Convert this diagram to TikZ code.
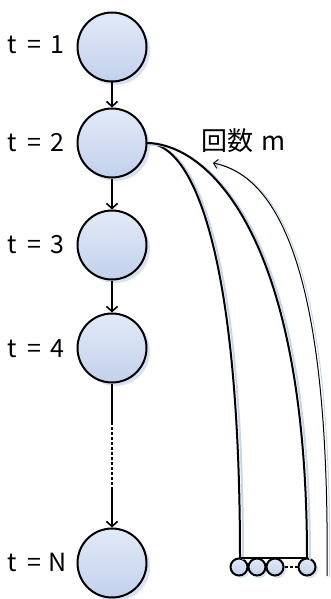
\documentclass[tikz,border=0pt]{standalone}
\usepackage{fontspec}
\setmainfont{Noto Sans CJK JP}
\usetikzlibrary{arrows.meta,shadows}
\definecolor{ctop}{RGB}{226,234,247}
\definecolor{cbot}{RGB}{194,209,236}
\definecolor{shc}{RGB}{200,213,238}
\newcommand{\hwc}[1]{\makebox[11.4pt]{#1}}
\tikzset{
  bigc/.style={circle, draw=black, line width=2pt, minimum size=69pt, inner sep=0pt,
    top color=ctop, bottom color=cbot,
    drop shadow={fill=shc, opacity=0.7, shadow xshift=3.5pt, shadow yshift=-3.5pt}},
  smallc/.style={circle, draw=black, line width=2pt, minimum size=17pt, inner sep=0pt,
    top color=ctop, bottom color=cbot,
    drop shadow={fill=shc, opacity=0.7, shadow xshift=2.5pt, shadow yshift=-2.5pt}},
  tlabel/.style={anchor=west, inner sep=0pt, font=\fontsize{25}{25}\selectfont},
  varrow/.style={line width=1.6pt, -{Straight Barb[length=5pt,width=11pt,line width=1.6pt]}},
  vline/.style={line width=1.6pt},
  bigcurve/.style={line width=2pt,
    preaction={draw=shc, line width=2pt, transform canvas={shift={(3pt,-1.5pt)}}}},
  thincurve/.style={line width=1pt,
    preaction={draw=shc, line width=1pt, transform canvas={shift={(2.5pt,-1pt)}}},
    -{Straight Barb[length=4pt,width=9pt,line width=1pt]}},
}
\begin{document}
\begin{tikzpicture}[x=1pt,y=-1pt]
\useasboundingbox (0,0) rectangle (330,599);
% main nodes
\node[bigc] (n1) at (112,47) {};
\node[bigc] (n2) at (112,143) {};
\node[bigc] (n3) at (112,245) {};
\node[bigc] (n4) at (112,348) {};
\node[bigc] (nN) at (112,563) {};
% labels
\node[tlabel] (l1) at (6,45) {\hwc{t}\hwc{ }\hwc{=}\hwc{ }\hwc{1}};
\node[tlabel] (l2) at (6,143) {\hwc{t}\hwc{ }\hwc{=}\hwc{ }\hwc{2}};
\node[tlabel] (l3) at (6,245) {\hwc{t}\hwc{ }\hwc{=}\hwc{ }\hwc{3}};
\node[tlabel] (l4) at (6,349) {\hwc{t}\hwc{ }\hwc{=}\hwc{ }\hwc{4}};
\node[tlabel] (lN) at (6,562) {\hwc{t}\hwc{ }\hwc{=}\hwc{ }\hwc{N}};
\node[tlabel, font=\fontsize{26}{26}\selectfont] (lm) at (201,141) {回数\hspace{8pt}m};
% vertical arrows
\draw[varrow] (n1) -- (n2);
\draw[varrow] (n2) -- (n3);
\draw[varrow] (n3) -- (n4);
\coordinate (d1) at (112,422);
\coordinate (d2) at (112,490);
\draw[vline] (n4) -- (d1);
\draw[vline, dash pattern=on 3pt off 2pt] (d1) -- (d2);
\draw[varrow] (d2) -- (nN);
% small circles
\node[smallc] (s1) at (239,567) {};
\node[smallc] (s2) at (257,567) {};
\node[smallc] (s3) at (275,567) {};
\node[smallc] (s4) at (307,567) {};
\draw[line width=1.6pt, dash pattern=on 3pt off 2pt] (s3) -- (s4);
% curves
\coordinate (a1) at (240,558);
\coordinate (a2) at (307,558);
\coordinate (st) at ([xshift=-1pt]n2.east);
\draw[bigcurve] (st) .. controls (195,143) and (240,260) .. (a1);
\draw[bigcurve] (st) .. controls (205,143) and (307,230) .. (a2);
\draw[line width=2pt] (a1) -- (a2);
% count arrow
\coordinate (b0) at (327,576);
\coordinate (b1) at (213,163);
\draw[thincurve] (b0) .. controls (330,300) and (288,178) .. (b1);
\end{tikzpicture}
\end{document}
